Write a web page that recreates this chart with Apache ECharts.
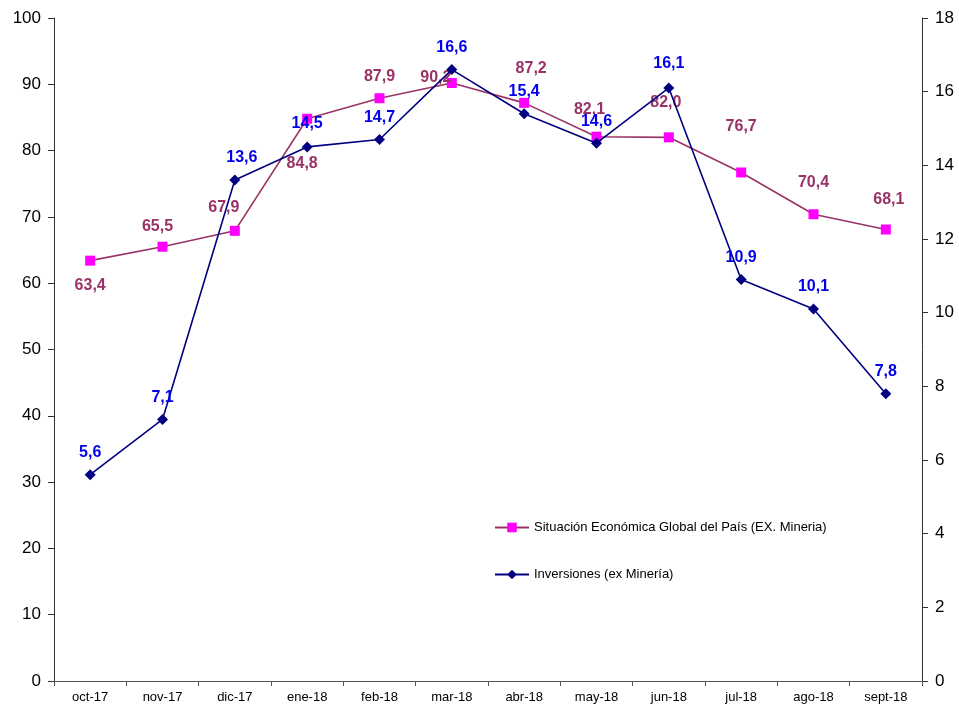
<!DOCTYPE html>
<html>
<head>
<meta charset="utf-8">
<script src="https://cdn.jsdelivr.net/npm/echarts@6/dist/echarts.min.js"></script>
<style>
  html,body{margin:0;padding:0;background:#fff;}
  #chart{width:959px;height:709px;}
</style>
</head>
<body>
<div id="chart"></div>
<script>
  // datos
  const categorias = ['oct-17','nov-17','dic-17','ene-18','feb-18','mar-18','abr-18','may-18','jun-18','jul-18','ago-18','sept-18'];
  const situacionGlobal = [63.4,65.5,67.9,84.8,87.9,90.2,87.2,82.1,82.0,76.7,70.4,68.1];
  const inversiones = [5.6,7.1,13.6,14.5,14.7,16.6,15.4,14.6,16.1,10.9,10.1,7.8];
  const nombreSerie1 = 'Situación Económica Global del País (EX. Mineria)';
  const nombreSerie2 = 'Inversiones (ex Minería)';

  // desplazamiento de etiquetas (px) respecto al punto
  const offs1 = [[0,25],[-5,-20],[-11,-23],[-5,45],[0,-22],[-16,-5],[7,-34],[-7,-27],[-3,-35],[0,-46],[0,-32],[3,-30]];
  const offs2 = [[0,-22],[0,-22],[7,-22],[0,-23],[0,-22],[0,-22],[0,-22],[0,-22],[0,-24],[0,-22],[0,-22],[0,-22]];

  const fmt = v => v.toFixed(1).replace('.', ',');
  const font = 'Liberation Sans, Arial, sans-serif';

  let chartDom = document.getElementById('chart');
  let myChart = echarts.init(chartDom);
  let option = {
    animation: false,
    backgroundColor: '#fff',
    grid: { left: 54, right: 37, top: 18, bottom: 28 },
    legend: {
      orient: 'vertical',
      left: 494,
      top: 521,
      padding: 0,
      itemGap: 34,
      itemWidth: 34,
      itemHeight: 12,
      textStyle: { fontFamily: font, fontSize: 13, color: '#000' },
      data: [nombreSerie1, nombreSerie2]
    },
    xAxis: {
      type: 'category',
      data: categorias,
      boundaryGap: true,
      axisLine: { lineStyle: { color: '#555', width: 1 } },
      axisTick: { show: true, length: 5, lineStyle: { color: '#555' } },
      axisLabel: { fontFamily: font, fontSize: 13, color: '#000', margin: 10 },
      splitLine: { show: false }
    },
    yAxis: [
      {
        type: 'value', min: 0, max: 100, interval: 10,
        axisLine: { show: true, lineStyle: { color: '#333' } },
        axisTick: { show: true, length: 6, lineStyle: { color: '#333' } },
        axisLabel: { fontFamily: font, fontSize: 17, color: '#000', margin: 13 },
        splitLine: { show: false }
      },
      {
        type: 'value', min: 0, max: 18, interval: 2,
        axisLine: { show: true, lineStyle: { color: '#333' } },
        axisTick: { show: true, length: 6, lineStyle: { color: '#333' } },
        axisLabel: { fontFamily: font, fontSize: 17, color: '#000', margin: 13 },
        splitLine: { show: false }
      }
    ],
    series: [
      {
        name: nombreSerie1,
        type: 'line',
        yAxisIndex: 0,
        symbol: 'rect',
        symbolSize: 10,
        z: 2,
        lineStyle: { color: '#993366', width: 1.6 },
        itemStyle: { color: '#FF00FF', borderWidth: 0 },
        data: situacionGlobal.map((v, i) => ({
          value: v,
          label: { show: true, position: 'inside', offset: offs1[i] }
        })),
        label: {
          formatter: p => fmt(p.value),
          color: '#993366', fontFamily: font, fontSize: 16, fontWeight: 'bold'
        }
      },
      {
        name: nombreSerie2,
        type: 'line',
        yAxisIndex: 1,
        symbol: 'diamond',
        symbolSize: 11,
        z: 3,
        lineStyle: { color: '#000080', width: 1.6 },
        itemStyle: { color: '#000080', borderWidth: 0 },
        data: inversiones.map((v, i) => ({
          value: v,
          label: { show: true, position: 'inside', offset: offs2[i] }
        })),
        label: {
          formatter: p => fmt(p.value),
          color: '#0000EE', fontFamily: font, fontSize: 16, fontWeight: 'bold'
        }
      }
    ]
  };
  myChart.setOption(option);
  window.onresize = myChart.resize;
</script>
</body>
</html>
